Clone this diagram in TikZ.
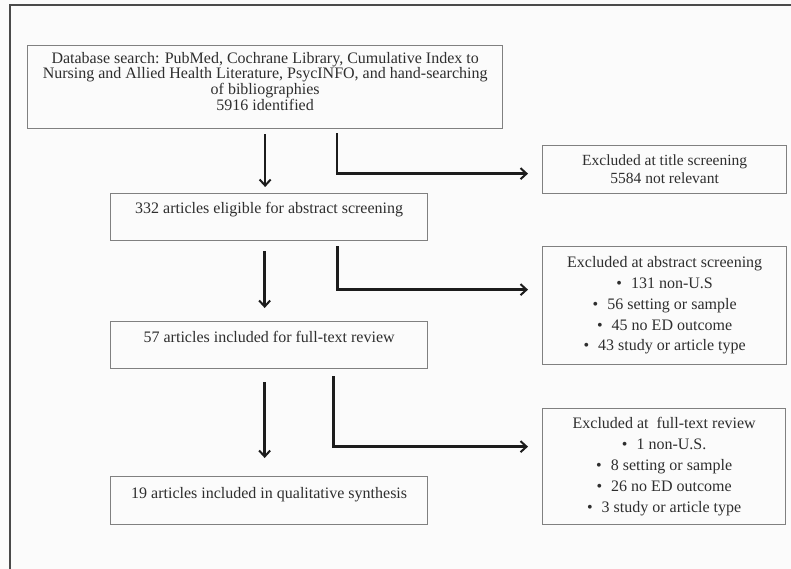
\documentclass[tikz,border=0pt]{standalone}
\usepackage{fontspec}
\setmainfont{Liberation Serif}
\usepackage{tikz}
\usetikzlibrary{arrows.meta}
\definecolor{txtgray}{HTML}{2E2E2E}
\definecolor{boxgray}{HTML}{808080}
\definecolor{arrowblk}{HTML}{1C1C1C}
\definecolor{framegray}{HTML}{4A4A4A}
\definecolor{paper}{HTML}{FBFBFB}

\begin{document}
\begin{tikzpicture}[x=1pt,y=-1pt,
  box/.style={draw=boxgray, line width=1.3pt, text=txtgray, anchor=north west, inner sep=0pt},
  stepbox/.style={box, minimum width=317pt, font=\fontsize{16}{18}\selectfont},
  exclbox/.style={box, align=center, minimum width=244pt},
  arr/.style={draw=arrowblk, line width=2.4pt, -{Straight Barb[length=6pt,width=11pt,line width=2pt]}}]
\useasboundingbox[fill=paper] (0,0) rectangle (791,569);
% frame on the left and top
\draw [framegray, line width=2pt] (10,569) -- (10,5) -- (791,5);

\node [box, minimum width=475pt, minimum height=83pt, align=center,
  font=\fontsize{16}{16}\selectfont] (search) at (27,45)
  {Database search: PubMed, Cochrane Library, Cumulative Index to\\[-0.5pt]
   Nursing and Allied Health Literature, PsycINFO, and hand-searching\\
   of bibliographies\\
   5916 identified\rule[-11pt]{0pt}{0pt}};
\node [stepbox, text height=20pt, text depth=27pt] (abstr) at (110,193)
  {332 articles eligible for abstract screening};
\node [stepbox, text height=21pt, text depth=26pt] (fulltext) at (110,321)
  {57 articles included for full-text review};
\node [stepbox, text height=22pt, text depth=26pt] (synth) at (110,476)
  {19 articles included in qualitative synthesis};

\node [exclbox, minimum height=48pt, font=\fontsize{15.5}{18}\selectfont] (extitle) at (542,145)
  {Excluded at title screening\\ 5584 not relevant};
\node [exclbox, minimum height=118pt, font=\fontsize{16}{20.75}\selectfont] (exabs) at (542,246)
  {Excluded at abstract screening\\
   \textbullet\hspace{9pt}131 non-U.S\\
   \textbullet\hspace{9pt}56 setting or sample\\
   \textbullet\hspace{9pt}45 no ED outcome\\
   \textbullet\hspace{9pt}43 study or article type};
\node [exclbox, minimum width=243pt, minimum height=116pt, font=\fontsize{16}{21}\selectfont] (exfull) at (542,408)
  {Excluded at\ \ full-text review\\
   \textbullet\hspace{9pt}1 non-U.S.\\
   \textbullet\hspace{9pt}8 setting or sample\\
   \textbullet\hspace{9pt}26 no ED outcome\\
   \textbullet\hspace{9pt}3 study or article type};

% main flow
\draw [arr] ([yshift=-5pt]search.south) -- ([yshift=6pt]abstr.north -| search.south);
\draw [arr] ([xshift=-4.5pt,yshift=-10pt]abstr.south) -- ([xshift=-4.5pt,yshift=13pt]fulltext.north);
\draw [arr] ([xshift=-4.5pt,yshift=-13pt]fulltext.south) -- ([xshift=-4.5pt,yshift=18pt]synth.north);

% exclusions
\draw [arr] ([xshift=72pt,yshift=-4pt]search.south) |- ([xshift=-14pt,yshift=-4pt]extitle.west);
\draw [arr] ([xshift=68.5pt,yshift=-5pt]abstr.south) |- ([xshift=-14pt,yshift=16pt]exabs.west);
\draw [arr] ([xshift=64.5pt,yshift=-7pt]fulltext.south) |- ([xshift=-14pt,yshift=20pt]exfull.west);
\end{tikzpicture}
\end{document}
